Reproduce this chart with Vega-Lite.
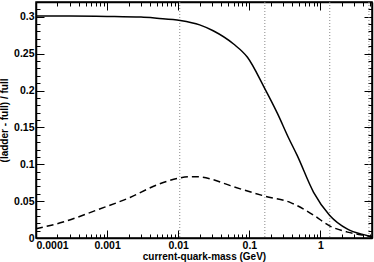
{
  "$schema": "https://vega.github.io/schema/vega-lite/v6.json",
  "width": 336,
  "height": 236,
  "autosize": {"type": "none"},
  "padding": {"left": 36, "top": 2, "right": 2, "bottom": 24},
  "background": "white",
  "config": {
    "view": {"stroke": "black", "strokeWidth": 1.5},
    "axis": {
      "labelFont": "Liberation Sans",
      "labelFontWeight": "bold",
      "labelFontSize": 10.5,
      "labelColor": "black",
      "titleFont": "Liberation Sans",
      "titleFontWeight": "bold",
      "titleFontSize": 10,
      "titleColor": "black",
      "domainColor": "black",
      "domainWidth": 1.5,
      "tickColor": "black",
      "tickWidth": 1,
      "grid": false,
      "labelOverlap": false,
      "labelBound": false
    }
  },
  "datasets": {
    "curves": [
      {"m": 0.0001, "r": 0.301, "s": "full"},
      {"m": 0.0003, "r": 0.301, "s": "full"},
      {"m": 0.001, "r": 0.3005, "s": "full"},
      {"m": 0.003, "r": 0.2995, "s": "full"},
      {"m": 0.005, "r": 0.298, "s": "full"},
      {"m": 0.0107, "r": 0.295, "s": "full"},
      {"m": 0.02, "r": 0.289, "s": "full"},
      {"m": 0.031, "r": 0.281, "s": "full"},
      {"m": 0.06, "r": 0.263, "s": "full"},
      {"m": 0.094, "r": 0.245, "s": "full"},
      {"m": 0.162, "r": 0.204, "s": "full"},
      {"m": 0.248, "r": 0.169, "s": "full"},
      {"m": 0.355, "r": 0.136, "s": "full"},
      {"m": 0.47, "r": 0.112, "s": "full"},
      {"m": 0.8, "r": 0.062, "s": "full"},
      {"m": 1.34, "r": 0.031, "s": "full"},
      {"m": 2.4, "r": 0.012, "s": "full"},
      {"m": 4.6, "r": 0.003, "s": "full"},
      {"m": 5.3, "r": 0.001, "s": "full"},
      {"m": 0.0001, "r": 0.0125, "s": "dashed"},
      {"m": 0.00024, "r": 0.0216, "s": "dashed"},
      {"m": 0.00072, "r": 0.038, "s": "dashed"},
      {"m": 0.0021, "r": 0.055, "s": "dashed"},
      {"m": 0.005, "r": 0.072, "s": "dashed"},
      {"m": 0.01, "r": 0.081, "s": "dashed"},
      {"m": 0.0147, "r": 0.083, "s": "dashed"},
      {"m": 0.0185, "r": 0.083, "s": "dashed"},
      {"m": 0.031, "r": 0.079, "s": "dashed"},
      {"m": 0.054, "r": 0.071, "s": "dashed"},
      {"m": 0.162, "r": 0.057, "s": "dashed"},
      {"m": 0.38, "r": 0.048, "s": "dashed"},
      {"m": 0.8, "r": 0.031, "s": "dashed"},
      {"m": 1.34, "r": 0.0165, "s": "dashed"},
      {"m": 2.4, "r": 0.008, "s": "dashed"},
      {"m": 4.6, "r": 0.003, "s": "dashed"},
      {"m": 5.3, "r": 0.002, "s": "dashed"}
    ],
    "marks": [
      {"m": 0.0105},
      {"m": 0.165},
      {"m": 1.35},
      {"m": 4.8}
    ]
  },
  "layer": [
    {
      "data": {"name": "marks"},
      "mark": {"type": "rule", "stroke": "#888888", "strokeWidth": 1, "strokeDash": [1, 2]},
      "encoding": {
        "x": {"field": "m", "type": "quantitative", "scale": {"type": "log", "domain": [0.0001, 5.3], "nice": false}, "axis": null}
      }
    },
    {
      "data": {"name": "curves"},
      "transform": [{"filter": "datum.s == 'full'"}],
      "mark": {"type": "line", "stroke": "black", "strokeWidth": 1.5, "interpolate": "monotone"},
      "encoding": {
        "x": {
          "field": "m", "type": "quantitative",
          "scale": {"type": "log", "domain": [0.0001, 5.3], "nice": false},
          "axis": {
            "orient": "bottom",
            "title": "current-quark-mass (GeV)",
            "titlePadding": -3,
            "values": [0.0001,0.0002,0.0003,0.0004,0.0005,0.0006,0.0007,0.0008,0.0009,0.001,0.002,0.003,0.004,0.005,0.006,0.007,0.008,0.009,0.01,0.02,0.03,0.04,0.05,0.06,0.07,0.08,0.09,0.1,0.2,0.3,0.4,0.5,0.6,0.7,0.8,0.9,1,2,3,4,5],
            "tickSize": {"condition": {"test": "abs(log(datum.value)/LN10 - round(log(datum.value)/LN10)) < 0.000001", "value": -8}, "value": -4},
            "labelPadding": 10,
            "labelExpr": "abs(log(datum.value)/LN10 - round(log(datum.value)/LN10)) < 0.000001 ? format(datum.value, '.4~f') : ''"
          }
        },
        "y": {
          "field": "r", "type": "quantitative",
          "scale": {"domain": [0, 0.32], "nice": false, "zero": true},
          "axis": {
            "orient": "left",
            "title": "(ladder - full) / full",
            "titlePadding": 4,
            "values": [0,0.01,0.02,0.03,0.04,0.05,0.06,0.07,0.08,0.09,0.1,0.11,0.12,0.13,0.14,0.15,0.16,0.17,0.18,0.19,0.2,0.21,0.22,0.23,0.24,0.25,0.26,0.27,0.28,0.29,0.3,0.31],
            "tickSize": {"condition": {"test": "abs(datum.value*20 - round(datum.value*20)) < 0.000001", "value": -8}, "value": -4},
            "labelPadding": 10,
            "labelExpr": "abs(datum.value*20 - round(datum.value*20)) < 0.000001 ? format(datum.value, '.2~f') : ''"
          }
        }
      }
    },
    {
      "data": {"name": "curves"},
      "transform": [{"filter": "datum.s == 'dashed'"}],
      "mark": {"type": "line", "stroke": "black", "strokeWidth": 1.5, "strokeDash": [7, 4], "interpolate": "monotone"},
      "encoding": {
        "x": {
          "field": "m", "type": "quantitative",
          "scale": {"type": "log", "domain": [0.0001, 5.3], "nice": false},
          "axis": {
            "orient": "top",
            "title": null,
            "values": [0.0001,0.0002,0.0003,0.0004,0.0005,0.0006,0.0007,0.0008,0.0009,0.001,0.002,0.003,0.004,0.005,0.006,0.007,0.008,0.009,0.01,0.02,0.03,0.04,0.05,0.06,0.07,0.08,0.09,0.1,0.2,0.3,0.4,0.5,0.6,0.7,0.8,0.9,1,2,3,4,5],
            "tickSize": {"condition": {"test": "abs(log(datum.value)/LN10 - round(log(datum.value)/LN10)) < 0.000001", "value": -8}, "value": -4},
            "labels": false
          }
        },
        "y": {
          "field": "r", "type": "quantitative",
          "scale": {"domain": [0, 0.32], "nice": false, "zero": true},
          "axis": {
            "orient": "right",
            "title": null,
            "values": [0,0.01,0.02,0.03,0.04,0.05,0.06,0.07,0.08,0.09,0.1,0.11,0.12,0.13,0.14,0.15,0.16,0.17,0.18,0.19,0.2,0.21,0.22,0.23,0.24,0.25,0.26,0.27,0.28,0.29,0.3,0.31],
            "tickSize": {"condition": {"test": "abs(datum.value*20 - round(datum.value*20)) < 0.000001", "value": -8}, "value": -4},
            "labels": false
          }
        }
      }
    }
  ],
  "resolve": {"axis": {"x": "independent", "y": "independent"}}
}
